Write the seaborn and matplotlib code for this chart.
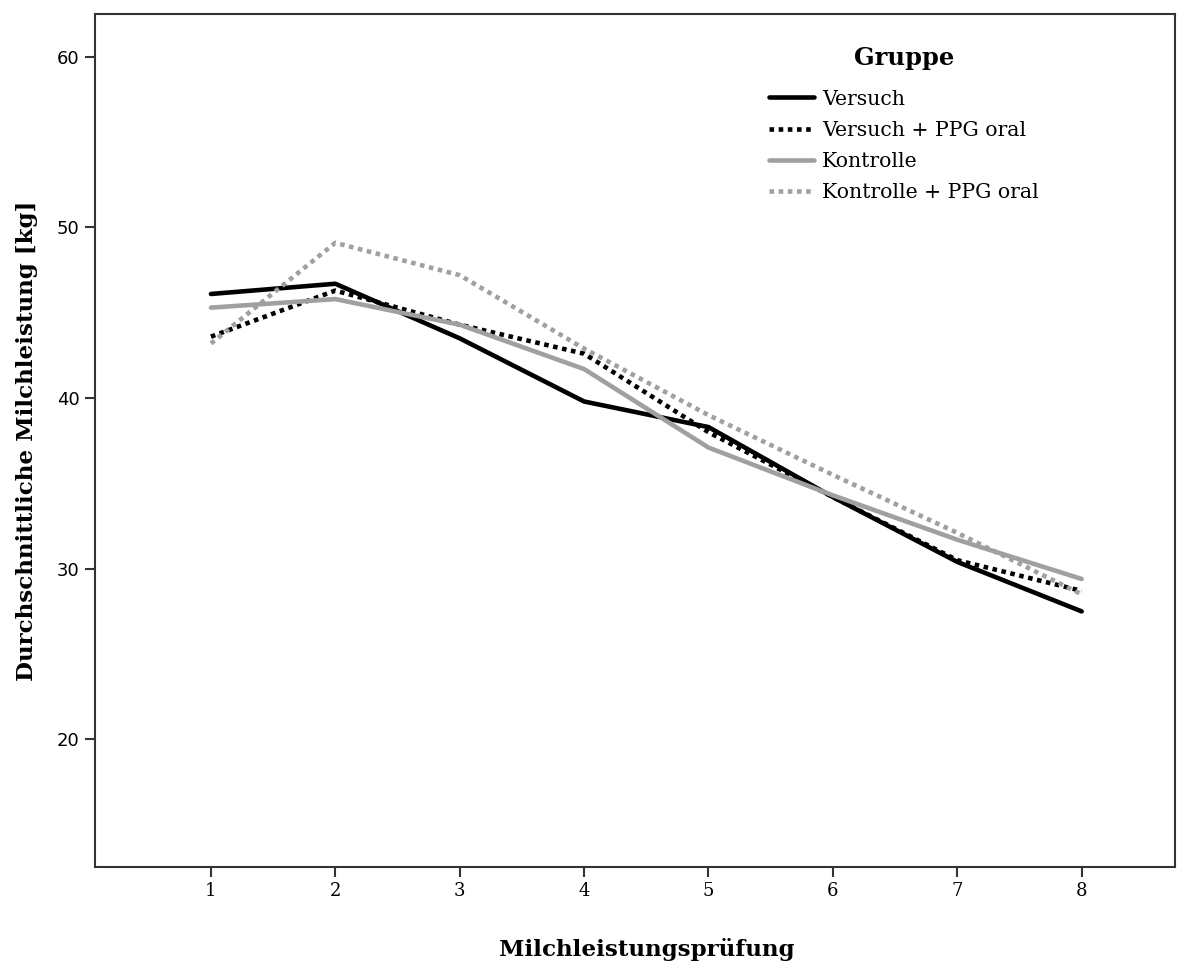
import numpy as np
import pandas as pd
import seaborn as sns
import matplotlib
matplotlib.use("Agg")
import matplotlib.pyplot as plt

# ---- data ----
pruefung = [1, 2, 3, 4, 5, 6, 7, 8]
versuch = [46.1, 46.7, 43.5, 39.8, 38.3, 34.2, 30.4, 27.5]
versuch_ppg = [43.6, 46.3, 44.3, 42.6, 38.0, 34.2, 30.5, 28.7]
kontrolle = [45.3, 45.8, 44.3, 41.7, 37.1, 34.3, 31.7, 29.4]
kontrolle_ppg = [43.2, 49.1, 47.2, 42.9, 39.0, 35.5, 32.1, 28.5]
groups = ["Versuch", "Versuch + PPG oral", "Kontrolle", "Kontrolle + PPG oral"]
y_ticks = [20, 30, 40, 50, 60]

series = [versuch, versuch_ppg, kontrolle, kontrolle_ppg]
df = pd.DataFrame({
    "Milchleistungsprüfung": np.tile(pruefung, len(groups)),
    "Milch": np.concatenate(series),
    "Gruppe": np.repeat(groups, len(pruefung)),
})

sns.set_theme(style="white")
plt.rcParams["font.family"] = ["DejaVu Serif"]
plt.rcParams["text.color"] = "black"
plt.rcParams["axes.labelcolor"] = "black"
plt.rcParams["xtick.color"] = "black"
plt.rcParams["ytick.color"] = "black"

fig = plt.figure(figsize=(11.88, 9.67), dpi=100)
ax = fig.add_axes([0.080, 0.1034, 0.909, 0.882])

palette = {groups[0]: "#000000", groups[1]: "#000000",
           groups[2]: "#a0a0a0", groups[3]: "#a0a0a0"}
dashes = {groups[0]: "", groups[1]: (1, 1), groups[2]: "", groups[3]: (1, 1)}

sns.lineplot(data=df, x="Milchleistungsprüfung", y="Milch", hue="Gruppe",
             style="Gruppe", hue_order=groups, style_order=groups,
             palette=palette, dashes=dashes, linewidth=3.3, ax=ax, legend=True)

ax.set_xlim(0.068, 8.75)
ax.set_ylim(12.52, 62.5)
ax.set_xticks(pruefung)
ax.set_yticks(y_ticks)
ax.set_xticklabels([str(p) for p in pruefung], fontfamily="DejaVu Serif", fontsize=13)
ax.set_yticklabels([str(t) for t in y_ticks], fontfamily="DejaVu Sans", fontsize=13)
ax.tick_params(axis="both", direction="out", length=7, width=1.5, color="#333333",
               left=True, bottom=True, pad=4)

for s in ax.spines.values():
    s.set_color("#333333")
    s.set_linewidth(1.5)
    s.set_visible(True)

ax.set_xlabel("Milchleistungsprüfung", fontsize=16.6, fontweight="bold", labelpad=26)
ax.xaxis.set_label_coords(0.511, -0.083)
ax.set_ylabel("Durchschnittliche Milchleistung [kg]", fontsize=16.6, fontweight="bold", labelpad=14)

handles, labels = ax.get_legend_handles_labels()
leg = ax.legend(handles, labels, title="Gruppe", loc="upper left",
                bbox_to_anchor=(0.607, 0.984), frameon=False, fontsize=14.7,
                handlelength=2.2, handletextpad=0.4, labelspacing=0.6,
                title_fontproperties={"weight": "bold", "size": 17.4})
leg._legend_box.sep = 14
for h in leg.get_lines():
    h.set_linewidth(3.3)

fig.savefig("out.png", dpi=100)
